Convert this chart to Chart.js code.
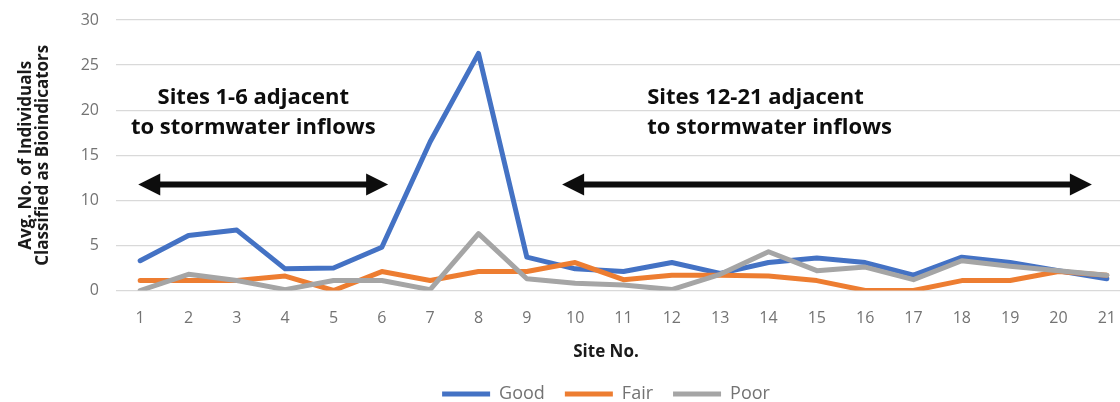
<!DOCTYPE html>
<html>
<head>
<meta charset="utf-8">
<title>Bioindicators by site</title>
<script src="https://cdn.jsdelivr.net/npm/chart.js@4.4.1/dist/chart.umd.min.js"></script>
<style>
  html, body { margin: 0; padding: 0; background: #ffffff; overflow: hidden; }
  #wrap { width: 1120px; height: 402px; overflow: hidden; position: relative; }
  canvas { display: block; }
</style>
</head>
<body>
<div id="wrap"><canvas id="chart" width="1212" height="413"></canvas></div>
<script>
// Site numbers along the x axis
const sites = ['1','2','3','4','5','6','7','8','9','10','11','12','13','14','15','16','17','18','19','20','21'];

// Average number of individuals classified as bioindicators, per condition class
const good = [3.3, 6.1, 6.7, 2.4, 2.5, 4.8, 16.5, 26.3, 3.7, 2.4, 2.1, 3.1, 1.9, 3.1, 3.6, 3.1, 1.7, 3.7, 3.1, 2.2, 1.3];
const fair = [1.1, 1.1, 1.1, 1.6, 0, 2.1, 1.1, 2.1, 2.1, 3.1, 1.2, 1.7, 1.7, 1.6, 1.1, 0, 0, 1.1, 1.1, 2.1, 1.7];
const poor = [0, 1.8, 1.1, 0.1, 1.1, 1.1, 0.1, 6.3, 1.3, 0.8, 0.6, 0.1, 1.8, 4.3, 2.2, 2.6, 1.2, 3.3, 2.7, 2.2, 1.7];

// Y axis tick values
const yTicks = [0, 5, 10, 15, 20, 25, 30];

// Notes marking the groups of sites next to stormwater inflows
const groupNotes = [
  { lines: ['Sites 1-6 adjacent', 'to stormwater inflows'], site: 3.34, align: 'center', from: 0.96, to: 6.13 },
  { lines: ['Sites 12-21 adjacent', 'to stormwater inflows'], site: 11.49, align: 'left', from: 9.73, to: 20.69 }
];

const FONT = "'Open Sans', 'Noto Sans', sans-serif";

// Draws the group notes and their double-headed arrows in data space
const groupNotesPlugin = {
  id: 'groupNotes',
  afterDatasetsDraw(chart, args, opts) {
    const { ctx } = chart;
    const xs = chart.scales.x, ys = chart.scales.y;
    const x0 = xs.getPixelForValue(0);
    const step = xs.getPixelForValue(1) - x0;
    const siteX = s => x0 + (s - 1) * step;
    ctx.save();
    ctx.fillStyle = '#0d0d0d';
    ctx.strokeStyle = '#0d0d0d';
    ctx.font = "bold 22px " + FONT;
    ctx.textBaseline = 'alphabetic';
    for (const note of opts.notes) {
      ctx.textAlign = note.align;
      note.lines.forEach((t, i) => {
        ctx.fillText(t, siteX(note.site), ys.getPixelForValue(opts.lineValues[i]));
      });
      // double-headed arrow
      const y = ys.getPixelForValue(opts.arrowValue);
      const a = siteX(note.from), b = siteX(note.to);
      const head = 22, half = 11;
      ctx.lineWidth = 6;
      ctx.beginPath();
      ctx.moveTo(a + head - 2, y);
      ctx.lineTo(b - head + 2, y);
      ctx.stroke();
      ctx.beginPath();
      ctx.moveTo(a, y);
      ctx.lineTo(a + head, y - half);
      ctx.lineTo(a + head, y + half);
      ctx.closePath();
      ctx.fill();
      ctx.beginPath();
      ctx.moveTo(b, y);
      ctx.lineTo(b - head, y - half);
      ctx.lineTo(b - head, y + half);
      ctx.closePath();
      ctx.fill();
    }
    ctx.restore();
  }
};

function series(label, data, color, order) {
  return {
    label, data,
    borderColor: color,
    backgroundColor: color,
    borderWidth: 5,
    borderJoinStyle: 'round',
    borderCapStyle: 'round',
    pointRadius: 0,
    pointHoverRadius: 0,
    tension: 0,
    order
  };
}

new Chart(document.getElementById('chart'), {
  type: 'line',
  data: {
    labels: sites,
    datasets: [
      series('Good', good, '#4472C4', 3),
      series('Fair', fair, '#ED7D31', 2),
      series('Poor', poor, '#A5A5A5', 1)
    ]
  },
  options: {
    responsive: false,
    animation: false,
    devicePixelRatio: 1,
    layout: { padding: { top: 20, left: 0, right: 0, bottom: 0 } },
    scales: {
      x: {
        type: 'category',
        offset: true,
        afterFit(s) { s.height = 40; s.paddingLeft = 0; s.paddingRight = 0; },
        grid: { display: false, drawTicks: false, tickLength: 0 },
        border: { display: false },
        ticks: { color: '#737373', font: { family: FONT, size: 16 }, padding: 18, maxRotation: 0, autoSkip: false }
      },
      y: {
        min: 0, max: 30,
        afterBuildTicks(s) { s.ticks = yTicks.map(v => ({ value: v })); },
        afterFit(s) { s.width = 116; s.paddingTop = 0; s.paddingBottom = 0; },
        grid: { color: '#d9d9d9', lineWidth: 1.3, drawTicks: false, tickLength: 0 },
        border: { display: false },
        ticks: { color: '#737373', font: { family: FONT, size: 16 }, padding: 17 },
        title: {
          display: true,
          text: ['Avg. No. of Individuals', 'Classified as Bioindicators'],
          color: '#1a1a1a',
          font: { family: FONT, size: 17, weight: 'bold', lineHeight: 1.0 },
          padding: { top: 17.5, bottom: 0 }
        }
      },
      // empty right-hand band so the bottom title and legend centre like the original layout
      yR: {
        position: 'right',
        display: true,
        afterFit(s) { s.width = 81; s.paddingTop = 0; s.paddingBottom = 0; },
        grid: { display: false, drawTicks: false },
        border: { display: false },
        ticks: { display: false }
      }
    },
    plugins: {
      tooltip: { enabled: false },
      title: {
        display: true,
        position: 'bottom',
        weight: 500,
        text: 'Site No.',
        color: '#1a1a1a',
        font: { family: FONT, size: 17, weight: 'bold', lineHeight: 1.2 },
        padding: { top: 11.3, bottom: 2.8 }
      },
      legend: {
        position: 'bottom',
        weight: 1000,
        labels: {
          boxWidth: 48,
          boxHeight: 5,
          padding: 20,
          color: '#737373',
          font: { family: FONT, size: 18 },
          sort: (a, b) => a.datasetIndex - b.datasetIndex,
          generateLabels(chart) {
            const items = Chart.defaults.plugins.legend.labels.generateLabels(chart);
            items.forEach(it => { it.lineWidth = 0; });
            return items;
          }
        }
      },
      groupNotes: {
        notes: groupNotes,
        lineValues: [20.7, 17.4],
        arrowValue: 11.75
      }
    }
  },
  plugins: [groupNotesPlugin]
});
</script>
</body>
</html>
